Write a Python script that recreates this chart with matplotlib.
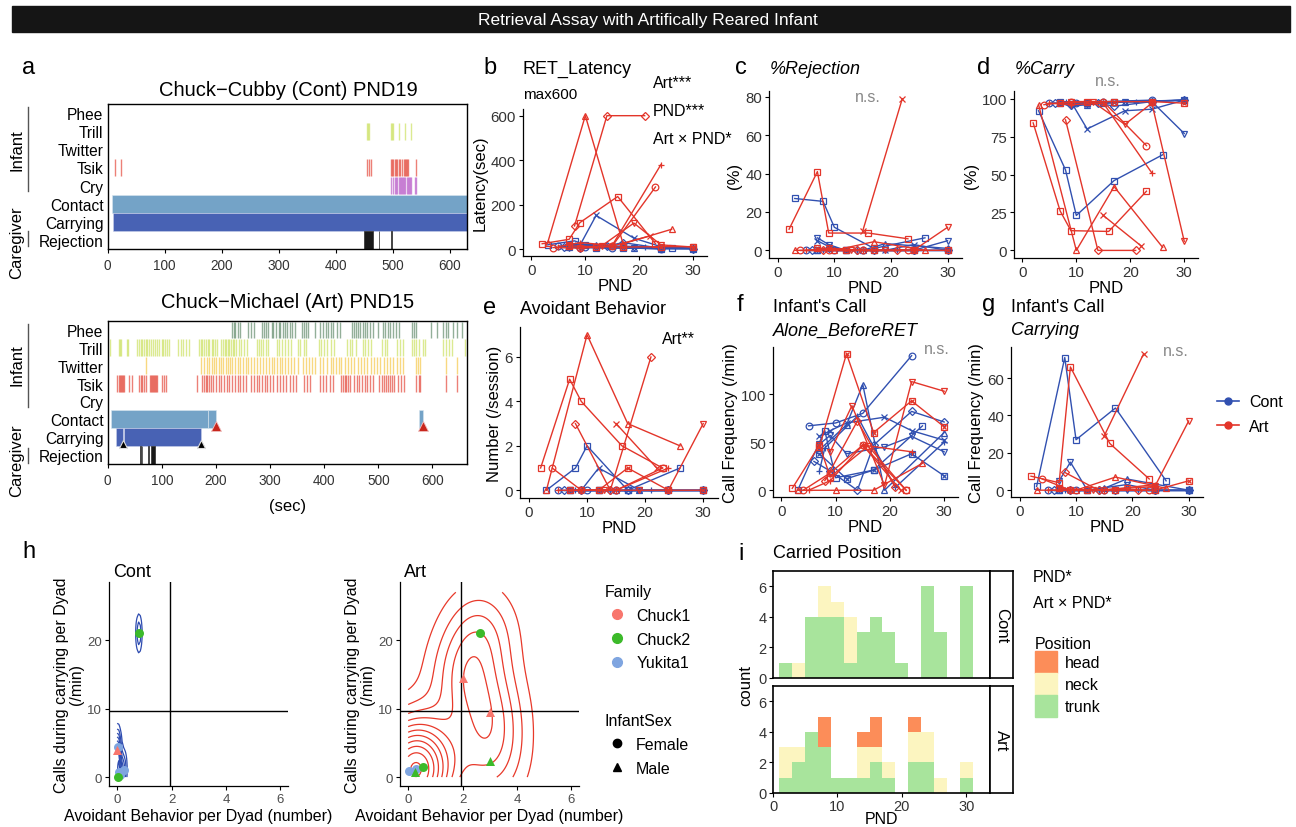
import numpy as np
import matplotlib
matplotlib.use("Agg")
import matplotlib.pyplot as plt
from matplotlib.lines import Line2D
from matplotlib.patches import Rectangle, Patch
from matplotlib.ticker import MaxNLocator

plt.rcParams['font.family'] = ['Liberation Sans', 'DejaVu Sans']

# ---------------------------------------------------------------------
# DATA
# ---------------------------------------------------------------------
ROWS = ['Phee', 'Trill', 'Twitter', 'Tsik', 'Cry', 'Contact', 'Carrying', 'Rejection']

# ethogram, Chuck-Cubby (Cont) PND19  (sec)
TOP_TRILL = [455, 457, 459, 497, 499, 501, 510, 522, 532]
TOP_TSIK = [13, 24, 455, 458, 461, 497, 499, 501, 503, 505, 507, 510, 513, 516, 519,
            521, 523, 525, 527, 540]
TOP_CRY = [497, 500, 504, 506, 508, 510, 512, 514, 516, 518, 520, 522, 524, 526, 528,
           530, 532, 538, 541]
TOP_CONTACT = [(7, 623)]
TOP_CARRY = [(9, 621)]
TOP_REJECT = [(450, 15), (475, 0.8), (497, 0.8)]

# ethogram, Chuck-Michael (Art) PND15  (sec)
BOT_PHEE = [230, 233, 236, 240, 245, 260, 264, 271, 286, 289, 292, 296, 303, 306, 311,
            316, 319, 324, 328, 331, 336, 340, 346, 359, 363, 366, 371, 383, 392, 398,
            403, 408, 413, 417, 423, 429, 451, 455, 458, 462, 466, 472, 476, 480, 484,
            490, 499, 508, 513, 518, 522, 527, 532, 539, 562, 566, 570, 598, 608, 620,
            626, 629, 638, 645, 654]
BOT_TRILL = [5, 20, 22, 25, 35, 38, 55, 58, 61, 64, 67, 70, 73, 76, 80, 84, 88, 91, 95,
             100, 103, 106, 110, 113, 130, 135, 140, 145, 150, 168, 172, 175, 178, 182,
             185, 188, 192, 195, 198, 202, 210, 213, 216, 219, 222, 225, 228, 231, 234,
             237, 242, 247, 252, 258, 276, 279, 283, 287, 292, 297, 313, 317, 322, 328,
             333, 338, 352, 356, 362, 366, 391, 395, 400, 406, 412, 418, 443, 447, 452,
             458, 472, 476, 481, 486, 507, 512, 517, 535, 540, 546, 562, 566, 570, 575,
             582, 586, 620, 625, 630, 637, 660]
BOT_TWITTER = [70, 172, 178, 183, 188, 192, 196, 200, 205, 210, 214, 218, 222, 226, 230,
               236, 240, 245, 250, 255, 260, 265, 270, 276, 282, 287, 293, 298, 303, 308,
               313, 318, 323, 328, 333, 338, 345, 352, 360, 366, 372, 378, 384, 392, 398,
               405, 412, 417, 422, 427, 432, 438, 444, 450, 456, 462, 468, 474, 480, 486,
               492, 498, 504, 510, 516, 522, 528, 534, 540, 545, 570, 574, 578, 625, 645]
BOT_TSIK = [18, 20, 22, 24, 26, 28, 30, 40, 44, 58, 61, 64, 67, 70, 78, 80, 82, 84, 86,
            88, 90, 92, 100, 104, 108, 165, 175, 178, 181, 184, 187, 190, 195, 200, 205,
            210, 215, 220, 225, 230, 235, 240, 245, 250, 255, 265, 270, 275, 280, 285,
            290, 295, 300, 305, 312, 318, 324, 330, 336, 342, 348, 362, 368, 374, 392,
            398, 404, 410, 416, 431, 435, 438, 441, 444, 448, 455, 460, 465, 470, 475,
            480, 485, 490, 502, 506, 510, 514, 518, 522, 526, 530, 536, 542, 548, 570,
            575, 578, 625, 645]
BOT_CONTACT = [(7, 178), (185, 15), (575, 8)]
BOT_CARRY = [(16, 12), (30, 143)]
BOT_REJECT = [(60, 1.5), (63, 1), (75, 2), (80, 8)]
BOT_CONTACT_END = [200, 582]
BOT_CARRY_END = [28, 173]

# longitudinal panels: PND of each session per dyad (shape)
PND_CONT = dict(sq=[3, 8, 10, 17, 26], ci=[5, 10, 15, 24], tr=[7, 12, 15, 19, 30],
                pl=[7, 8, 14, 21, 30], xx=[7, 9, 12, 19, 24, 30], di=[6, 9, 14, 17, 24, 30],
                dt=[7, 9, 12, 19, 24, 30], sx=[7, 12, 17, 24, 30])
PND_ART = dict(sq=[2, 7, 9, 16, 23], ci=[4, 9, 15, 23], tr=[3, 10, 17, 26],
               pl=[5, 9, 15, 24], xx=[15, 22], di=[8, 14, 21],
               dt=[9, 13, 19, 24, 30], sx=[7, 12, 17, 24, 30])

LAT_CONT = dict(sq=[20, 38, 20, 10, 5], ci=[15, 10, 8, 2], tr=[25, 20, 15, 8, 5],
                pl=[12, 20, 15, 12, 5], xx=[20, 18, 152, 50, 12, 3], di=[12, 8, 15, 30, 5, 3],
                dt=[8, 12, 8, 6, 3, 3], sx=[10, 6, 6, 3, 2])
LAT_ART = dict(sq=[25, 45, 120, 237, 25], ci=[8, 5, 15, 280], tr=[28, 600, 25, 90],
               pl=[12, 30, 18, 380], xx=[15, 60], di=[105, 600, 600],
               dt=[5, 15, 118, 20, 10], sx=[15, 12, 10, 12, 12])

REJ_CONT = dict(sq=[27, 25.5, 12, 1, 6.5], ci=[0, 0, 0, 0], tr=[0, 0, 0, 3.5, 1],
                pl=[0, 0, 0, 0, 0], xx=[5, 2, 0, 0, 3, 0], di=[0, 1, 0, 0, 0, 0],
                dt=[6.5, 3, 0, 0, 0, 5], sx=[0, 0, 0, 0, 0])
REJ_ART = dict(sq=[11, 41, 9, 9, 6], ci=[0, 0, 0, 0], tr=[0, 0, 4.5, 0],
               pl=[0, 1, 0, 0], xx=[10, 79], di=[0, 0, 0],
               dt=[1, 0, 0, 0, 12], sx=[1, 0, 0, 0, 0])

CARRY_CONT = dict(sq=[92, 53, 23, 46, 63], ci=[97, 97, 98, 99], tr=[97, 96, 97, 98, 99],
                  pl=[97, 98, 97, 98, 99], xx=[97, 98, 80, 92, 93, 99],
                  di=[97, 96, 97, 95, 98, 99], dt=[97, 95, 96, 98, 98, 77],
                  sx=[98, 97, 98, 98, 99])
CARRY_ART = dict(sq=[84, 26, 13, 12.5, 39], ci=[96, 98, 98, 69], tr=[96, 0, 42, 2],
                 pl=[97, 96, 97, 51], xx=[23, 3], di=[86, 0, 0],
                 dt=[98, 98, 83, 97, 6], sx=[97, 98, 98, 98, 97])

AVOID_CONT = dict(sq=[0, 1, 2, 0, 1], ci=[0, 0, 0, 0], tr=[0, 0, 0, 0, 0],
                  pl=[0, 0, 0, 0, 0], xx=[0, 0, 1, 0, 0, 0], di=[0, 0, 0, 0, 0, 0],
                  dt=[0, 0, 0, 0, 0, 0], sx=[0, 0, 0, 0, 0])
AVOID_ART = dict(sq=[1, 5, 4, 2, 1], ci=[1, 0, 0, 1], tr=[0, 7, 3, 2],
                 pl=[0, 0, 0, 1], xx=[3, 1], di=[3, 0, 6],
                 dt=[0, 0, 0, 0, 3], sx=[0, 0, 1, 0, 0])

ALONE_CONT = dict(sq=[0, 62, 13, 21, 67], ci=[67, 70, 80, 140], tr=[42, 68, 110, 0, 60],
                  pl=[20, 44, 77, 3, 50], xx=[56, 62, 70, 76, 62, 52],
                  di=[30, 20, 0, 47, 82, 71], dt=[48, 57, 38, 45, 56, 40],
                  sx=[38, 12, 21, 38, 15])
ALONE_ART = dict(sq=[2, 47, 14, 46, 0], ci=[0, 18, 47, 0], tr=[0, 0, 0, 28],
                 pl=[0, 10, 47, 40], xx=[47, 0], di=[10, 72, 3],
                 dt=[40, 88, 5, 113, 103], sx=[45, 142, 60, 93, 66])

CCALL_CONT = dict(sq=[2, 71, 27, 44, 5], ci=[0, 0, 0, 0], tr=[0, 0, 1, 6, 0],
                  pl=[0, 0, 0, 0, 0], xx=[0, 0, 0, 3, 0, 0], di=[0, 0, 0, 0, 0, 0],
                  dt=[5, 15, 0, 0, 0, 0], sx=[0, 0, 0, 0, 0])
CCALL_ART = dict(sq=[7.5, 4, 66, 25, 6], ci=[6, 0, 0, 0], tr=[0, 0, 7, 1],
                 pl=[0, 0, 0, 3], xx=[29, 73], di=[9.5, 0, 0],
                 dt=[0, 0, 1, 2, 37], sx=[1, 0, 0, 0, 5])

# panel h: per-dyad avoidance vs calls during carrying
CONT_AVOIDN = [0.8, 0.03, 0.05, 0.1, 0.25, 0.02, 0.0]
CONT_CALLS = [21, 4.4, 0.8, 0.3, 1.1, 0.0, 4.0]
CONT_FAMILY = ['Chuck2', 'Yukita1', 'Yukita1', 'Yukita1', 'Yukita1', 'Chuck2', 'Chuck1']
CONT_SEX = ['Female', 'Female', 'Female', 'Female', 'Female', 'Female', 'Male']
ART_AVOIDN = [0.02, 0.27, 0.55, 0.25, 2.65, 2.0, 3.0, 3.0]
ART_CALLS = [0.9, 1.2, 1.5, 0.7, 21, 14.5, 9.5, 2.4]
ART_FAMILY = ['Yukita1', 'Yukita1', 'Chuck2', 'Chuck2', 'Chuck2', 'Chuck1', 'Chuck1', 'Chuck2']
ART_SEX = ['Female', 'Female', 'Female', 'Male', 'Female', 'Male', 'Male', 'Male']
AVOID_REF = 1.95
CALL_REF = 9.7

# panel i: carried position counts, bins of 2 days
BIN_LEFT = [1, 3, 5, 7, 9, 11, 13, 15, 17, 19, 21, 23, 25, 27, 29]
CONT_TRUNK = [1, 0, 4, 4, 4, 1, 3, 4, 3, 1, 0, 6, 3, 0, 6]
CONT_NECK = [0, 1, 0, 2, 1, 3, 0, 0, 0, 0, 0, 0, 0, 0, 0]
CONT_HEAD = [0, 0, 0, 0, 0, 0, 0, 0, 0, 0, 0, 0, 0, 0, 0]
ART_TRUNK = [1, 2, 4, 3, 1, 1, 1, 2, 1, 0, 2, 2, 0, 0, 1]
ART_NECK = [2, 1, 0, 0, 0, 0, 2, 1, 1, 0, 2, 2, 1, 0, 1]
ART_HEAD = [0, 0, 0, 2, 0, 0, 1, 2, 0, 0, 1, 0, 0, 0, 0]

# ---------------------------------------------------------------------
# STYLE
# ---------------------------------------------------------------------
BLUE = '#3150b0'
RED = '#e3352a'
CALL_COLORS = {'Phee': '#4b7b55', 'Trill': '#c4dc48', 'Twitter': '#f4be2c',
               'Tsik': '#e02c1c', 'Cry': '#b044c0'}
FAMILY_COLORS = {'Chuck1': '#F8766D', 'Chuck2': '#3cba2a', 'Yukita1': '#7fa5e0'}
POS_COLORS = {'head': '#fc8d59', 'neck': '#fcf5c0', 'trunk': '#a8e49c'}
SHAPES = {'sq': ('s', 'none'), 'ci': ('o', 'none'), 'tr': ('^', 'none'), 'pl': ('+', None),
          'xx': ('x', None), 'di': ('D', 'none'), 'dt': ('v', 'none'), 'sx': ('s', 'none')}
TICK_C = '#333333'
LEG_KW = dict(frameon=False, fontsize=11.5, title_fontsize=11.5, alignment='left',
              borderpad=0, borderaxespad=0)

W, H = 1296, 828
fig = plt.figure(figsize=(W / 100, H / 100), dpi=100)


def rect(x0, y0, x1, y1):
    return [x0 / W, 1 - y1 / H, (x1 - x0) / W, (y1 - y0) / H]


def ftext(x, y, s, **kw):
    kw.setdefault('va', 'center')
    kw.setdefault('ha', 'left')
    fig.text(x / W, 1 - y / H, s, **kw)


def anchor(x, y):
    return (x / W, 1 - y / H)


# overlay in pixel coords for the banner and side brackets
ov = fig.add_axes([0, 0, 1, 1], zorder=-1)
ov.set_xlim(0, W)
ov.set_ylim(H, 0)
ov.axis('off')
ov.add_patch(Rectangle((12, 7), 1278, 26, color='#151515'))
ftext(648, 20, 'Retrieval Assay with Artifically Reared Infant', ha='center',
      color='white', fontsize=12.5)


# ---------------------------------------------------------------------
# a: ethograms
# ---------------------------------------------------------------------
def ethogram(ax, calls, contact, carry, reject, xmax):
    ypos = {r: 8 - i for i, r in enumerate(ROWS)}
    for name, times in calls.items():
        y = ypos[name]
        ax.vlines(times, y - 0.47, y + 0.47, color=CALL_COLORS[name], lw=1.0, alpha=0.6)
    ax.broken_barh(contact, (ypos['Contact'] - 0.5, 1.0), facecolor='#74a3c7',
                   edgecolor='#d8e6f0', lw=0.4)
    ax.broken_barh(carry, (ypos['Carrying'] - 0.5, 1.0), facecolor='#4862b4',
                   edgecolor='#c8d0ea', lw=0.4)
    ax.broken_barh(reject, (ypos['Rejection'] - 0.5, 1.0), facecolor='black',
                   edgecolor='#333333', lw=0.6, alpha=0.9)
    ax.set_xlim(0, xmax)
    ax.set_ylim(0.5, 8.5)
    ax.set_yticks([ypos[r] for r in ROWS])
    ax.set_yticklabels(ROWS, fontsize=11.2)
    ax.tick_params(axis='y', length=0, pad=3)
    ax.tick_params(axis='x', labelsize=9.8, length=3, colors='black', labelcolor=TICK_C)
    ax.set_xticks([0, 100, 200, 300, 400, 500, 600])
    for s in ax.spines.values():
        s.set_linewidth(1.0)
    return ypos


ax_a1 = fig.add_axes(rect(107.7, 105, 467, 250))
ethogram(ax_a1, {'Trill': TOP_TRILL, 'Tsik': TOP_TSIK, 'Cry': TOP_CRY},
         TOP_CONTACT, TOP_CARRY, TOP_REJECT, 630)

ax_a2 = fig.add_axes(rect(107.7, 322, 467, 465))
yp = ethogram(ax_a2, {'Phee': BOT_PHEE, 'Trill': BOT_TRILL, 'Twitter': BOT_TWITTER,
                      'Tsik': BOT_TSIK}, BOT_CONTACT, BOT_CARRY, BOT_REJECT, 664)
ax_a2.plot(BOT_CONTACT_END, [yp['Contact'] - 0.38] * len(BOT_CONTACT_END), '^',
           color='#c8261c', ms=7, mec='#f0c0c0', mew=0.6)
ax_a2.plot(BOT_CARRY_END, [yp['Carrying'] - 0.38] * len(BOT_CARRY_END), '^',
           color='black', ms=6, mec='#dddddd', mew=0.8)

ftext(22, 68, 'a', fontsize=17)
ftext(288, 90, 'Chuck\u2212Cubby (Cont) PND19', ha='center', fontsize=14.5)
ftext(288, 303, 'Chuck\u2212Michael (Art) PND15', ha='center', fontsize=14.5)
ftext(288, 506, '(sec)', ha='center', fontsize=12)
for (ty, l0, l1), (cy, c0, c1) in [((150, 108, 192), (243, 232, 247)),
                                   ((365, 325, 408), (461, 449, 464))]:
    ftext(17, ty, 'Infant', rotation=90, ha='center', fontsize=12)
    ftext(17, cy, 'Caregiver', rotation=90, ha='center', fontsize=12)
    ov.plot([28, 28], [l0, l1], color='#555555', lw=1)
    ov.plot([28, 28], [c0, c1], color='#555555', lw=1)


# ---------------------------------------------------------------------
# b-g: longitudinal lines
# ---------------------------------------------------------------------
def classic(ax, fs=10.8):
    for s in ['top', 'right']:
        ax.spines[s].set_visible(False)
    for s in ['left', 'bottom']:
        ax.spines[s].set_linewidth(0.9)
    ax.tick_params(labelsize=fs, length=3, labelcolor=TICK_C, width=0.8, pad=2)


def long_panel(box, cont, art, ylim, yticks, ylabel):
    ax = fig.add_axes(rect(*box))
    for pnd, vals, col in [(PND_CONT, cont, BLUE), (PND_ART, art, RED)]:
        for key, ys in vals.items():
            mk, fc = SHAPES[key]
            ms = 4.0 if mk == 'D' else 4.8
            ax.plot(pnd[key], ys, color=col, lw=1.0, marker=mk, ms=ms,
                    mfc=fc if fc else col, mew=0.9)
            if key == 'sx':
                ax.plot(pnd[key], ys, ls='none', color=col, marker='x', ms=3.5, mew=0.9)
    ax.set_xlim(-1.55, 32.55)
    ax.set_ylim(*ylim)
    ax.set_xticks([0, 10, 20, 30])
    ax.set_yticks(yticks)
    ax.set_xlabel('PND', fontsize=12, labelpad=1)
    ax.set_ylabel(ylabel, fontsize=12, labelpad=2)
    classic(ax)
    return ax


long_panel((523, 110, 707, 257), LAT_CONT, LAT_ART, (-30, 630), [0, 200, 400, 600],
           'Latency(sec)')
long_panel((769, 92, 962, 259), REJ_CONT, REJ_ART, (-4, 83), [0, 20, 40, 60, 80], '(%)')
long_panel((1014, 92, 1198, 259), CARRY_CONT, CARRY_ART, (-5, 105),
           [0, 25, 50, 75, 100], '(%)')
long_panel((520, 328, 718, 499), AVOID_CONT, AVOID_ART, (-0.35, 7.35), [0, 2, 4, 6],
           'Number (/session)')
long_panel((773, 348, 958, 498), ALONE_CONT, ALONE_ART, (-7, 149), [0, 50, 100],
           'Call Frequency (/min)')
long_panel((1011, 348, 1203, 498), CCALL_CONT, CCALL_ART, (-3.65, 76.65), [0, 20, 40, 60],
           'Call Frequency (/min)')

ftext(483, 68, 'b', fontsize=17)
ftext(523, 69, 'RET_Latency', fontsize=13)
ftext(523, 95, 'max600', fontsize=11)
ftext(653, 84, 'Art***', fontsize=11.5)
ftext(653, 112, 'PND***', fontsize=11.5)
ftext(653, 139, 'Art \u00d7 PND*', fontsize=11.5)

ftext(735, 68, 'c', fontsize=17)
ftext(770, 70, '%Rejection', fontsize=13, style='italic')
ftext(868, 98, 'n.s.', fontsize=11.5, color='#888888', ha='center')

ftext(977, 68, 'd', fontsize=17)
ftext(1015, 70, '%Carry', fontsize=13, style='italic')
ftext(1108, 82, 'n.s.', fontsize=11.5, color='#888888', ha='center')

ftext(483, 308, 'e', fontsize=17)
ftext(520, 309, 'Avoidant Behavior', fontsize=13)
ftext(662, 339, 'Art**', fontsize=11.5)

ftext(737, 305, 'f', fontsize=17)
ftext(773, 308, "Infant's Call", fontsize=13)
ftext(773, 331, 'Alone_BeforeRET', fontsize=13, style='italic')
ftext(950, 350, 'n.s.', fontsize=11.5, color='#888888', ha='right')

ftext(982, 305, 'g', fontsize=17)
ftext(1011, 308, "Infant's Call", fontsize=13)
ftext(1011, 331, 'Carrying', fontsize=13, style='italic')
ftext(1176, 352, 'n.s.', fontsize=11.5, color='#888888', ha='center')

grp_handles = [Line2D([], [], color=BLUE, marker='o', ms=5, lw=1.2),
               Line2D([], [], color=RED, marker='o', ms=5, lw=1.2)]
fig.legend(grp_handles, ['Cont', 'Art'], loc='center left', bbox_to_anchor=anchor(1217, 415),
           handlelength=1.4, handletextpad=0.6, labelspacing=0.6, **LEG_KW)


# ---------------------------------------------------------------------
# h: avoidance vs calls with 2D density
# ---------------------------------------------------------------------
def bw_nrd(v):
    v = np.asarray(v, float)
    q75, q25 = np.percentile(v, [75, 25])
    return 4 * 1.06 * min(np.std(v, ddof=1), (q75 - q25) / 1.34) * len(v) ** (-0.2)


def kde2d(x, y, xr, yr, n=100):
    x = np.asarray(x, float)
    y = np.asarray(y, float)
    gx = np.linspace(xr[0], xr[1], n)
    gy = np.linspace(yr[0], yr[1], n)
    hx, hy = bw_nrd(x) / 4, bw_nrd(y) / 4
    kx = np.exp(-0.5 * ((gx[:, None] - x[None, :]) / hx) ** 2) / np.sqrt(2 * np.pi)
    ky = np.exp(-0.5 * ((gy[:, None] - y[None, :]) / hy) ** 2) / np.sqrt(2 * np.pi)
    z = kx @ ky.T / (len(x) * hx * hy)
    return gx, gy, z.T


def scatter_panel(box, xs, ys, fams, sexes, line_col, title, nbins):
    ax = fig.add_axes(rect(*box))
    gx, gy, z = kde2d(xs, ys, (0, 6), (0, 27))
    levels = MaxNLocator(nbins=nbins).tick_values(z.min(), z.max())
    levels = levels[(levels > z.min()) & (levels < z.max())]
    ax.contour(gx, gy, z, levels=levels, colors=line_col, linewidths=0.9)
    ax.axvline(AVOID_REF, color='black', lw=1.0)
    ax.axhline(CALL_REF, color='black', lw=1.0)
    for x, y, f, s in zip(xs, ys, fams, sexes):
        ax.scatter(x, y, s=42, color=FAMILY_COLORS[f], marker='o' if s == 'Female' else '^',
                   lw=0, zorder=3)
    ax.set_xlim(-0.3, 6.28)
    ax.set_ylim(-1.3, 28.5)
    ax.set_xticks([0, 2, 4, 6])
    ax.set_yticks([0, 10, 20])
    ax.set_xlabel('Avoidant Behavior per Dyad (number)', fontsize=11.5, labelpad=2)
    ax.set_ylabel('Calls during carrying per Dyad\n(/min)', fontsize=11.5, labelpad=2,
                  linespacing=1.0)
    classic(ax, fs=9.5)
    ax.tick_params(labelcolor='#4d4d4d')
    ftext(box[0] + 4, 573, title, fontsize=13)
    return ax


scatter_panel((109, 583, 288, 787), CONT_AVOIDN, CONT_CALLS, CONT_FAMILY, CONT_SEX,
              '#2d4bb0', 'Cont', 10)
scatter_panel((400, 583, 579, 787), ART_AVOIDN, ART_CALLS, ART_FAMILY, ART_SEX,
              '#e8392a', 'Art', 15)
ftext(22, 552, 'h', fontsize=17)

fam_handles = [Line2D([], [], ls='none', marker='o', ms=7, color=FAMILY_COLORS[f])
               for f in FAMILY_COLORS]
fig.legend(fam_handles, list(FAMILY_COLORS), title='Family', loc='upper left',
           bbox_to_anchor=anchor(605, 585), labelspacing=0.55, handlelength=1.5,
           handletextpad=0.45, **LEG_KW)
sex_handles = [Line2D([], [], ls='none', marker='o', ms=6, color='black'),
               Line2D([], [], ls='none', marker='^', ms=6, color='black')]
fig.legend(sex_handles, ['Female', 'Male'], title='InfantSex', loc='upper left',
           bbox_to_anchor=anchor(605, 714), labelspacing=0.55, handlelength=1.5,
           handletextpad=0.45, **LEG_KW)


# ---------------------------------------------------------------------
# i: carried position histogram, faceted by group
# ---------------------------------------------------------------------
def hist_panel(box, trunk, neck, head, strip, show_x):
    ax = fig.add_axes(rect(*box))
    trunk = np.array(trunk)
    neck = np.array(neck)
    head = np.array(head)
    ax.bar(BIN_LEFT, trunk, width=2, align='edge', color=POS_COLORS['trunk'], lw=0)
    ax.bar(BIN_LEFT, neck, width=2, align='edge', bottom=trunk, color=POS_COLORS['neck'],
           lw=0)
    ax.bar(BIN_LEFT, head, width=2, align='edge', bottom=trunk + neck,
           color=POS_COLORS['head'], lw=0)
    ax.set_xlim(0, 33.7)
    ax.set_ylim(0, 7)
    ax.set_yticks([0, 2, 4, 6])
    ax.set_xticks([0, 10, 20, 30])
    ax.tick_params(labelsize=10.5, length=3, labelcolor=TICK_C, pad=1.5)
    if not show_x:
        ax.tick_params(axis='x', length=0, labelbottom=False)
    for s in ax.spines.values():
        s.set_linewidth(1.2)
    sx = fig.add_axes(rect(box[2], box[1], box[2] + 23, box[3]))
    sx.set_xticks([])
    sx.set_yticks([])
    for s in sx.spines.values():
        s.set_linewidth(1.2)
    sx.text(0.5, 0.5, strip, rotation=-90, ha='center', va='center', fontsize=12,
            transform=sx.transAxes)
    return ax


hist_panel((773, 572, 990, 679), CONT_TRUNK, CONT_NECK, CONT_HEAD, 'Cont', False)
hist_panel((773, 687, 990, 794), ART_TRUNK, ART_NECK, ART_HEAD, 'Art', True)
ftext(881, 820, 'PND', ha='center', fontsize=11.5)
ftext(746, 686, 'count', rotation=90, ha='center', fontsize=12)
ftext(738, 554, 'i', fontsize=17)
ftext(773, 554, 'Carried Position', fontsize=13)
ftext(1033, 578, 'PND*', fontsize=11.5)
ftext(1033, 604, 'Art \u00d7 PND*', fontsize=11.5)

pos_handles = [Patch(color=POS_COLORS[p]) for p in ['head', 'neck', 'trunk']]
fig.legend(pos_handles, ['head', 'neck', 'trunk'], title='Position', loc='upper left',
           bbox_to_anchor=anchor(1035, 637), labelspacing=0.0, handlelength=1.4,
           handleheight=1.75, handletextpad=0.45, **LEG_KW)

fig.savefig('out.png', dpi=100)
